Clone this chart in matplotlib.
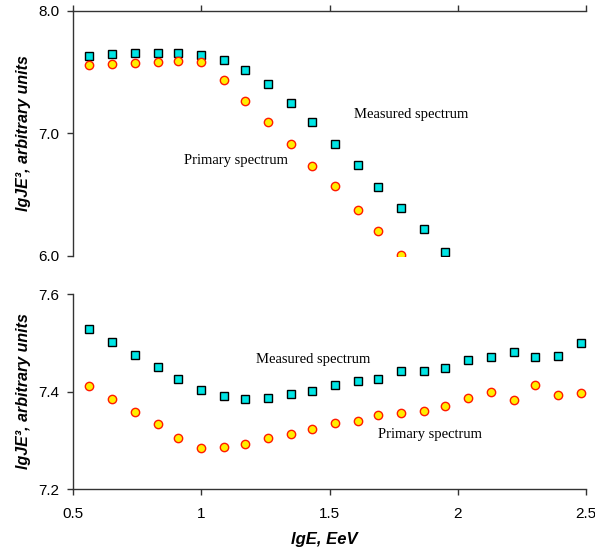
import matplotlib
matplotlib.use("Agg")
import matplotlib.pyplot as plt

# energy bins, lgE in EeV
lg_e = [0.56, 0.65, 0.74, 0.83, 0.91, 1.00, 1.09, 1.17, 1.26, 1.35, 1.43, 1.52,
        1.61, 1.69, 1.78, 1.87, 1.95, 2.04, 2.13, 2.22, 2.30, 2.39, 2.48]

# upper panel
top_measured = [7.633, 7.644, 7.652, 7.657, 7.657, 7.641, 7.595, 7.516, 7.404,
                7.249, 7.091, 6.914, 6.743, 6.563, 6.392, 6.220, 6.028]
top_primary = [7.554, 7.562, 7.573, 7.581, 7.587, 7.579, 7.434, 7.263, 7.089,
               6.914, 6.735, 6.569, 6.376, 6.204, 6.003]

# lower panel
bot_measured = [7.528, 7.502, 7.474, 7.450, 7.426, 7.404, 7.390, 7.385, 7.387,
                7.395, 7.402, 7.413, 7.421, 7.425, 7.442, 7.442, 7.449, 7.465,
                7.471, 7.481, 7.471, 7.473, 7.499]
bot_primary = [7.411, 7.385, 7.359, 7.333, 7.304, 7.285, 7.287, 7.292, 7.305,
               7.312, 7.324, 7.336, 7.339, 7.351, 7.355, 7.361, 7.370, 7.386,
               7.399, 7.383, 7.414, 7.393, 7.397]

x_ticks = [0.5, 1, 1.5, 2, 2.5]
x_ticklabels = ["0.5", "1", "1.5", "2", "2.5"]

plt.rcParams["font.family"] = ["Liberation Sans", "DejaVu Sans"]

fig = plt.figure(figsize=(5.95, 5.54), dpi=100)
ax1 = fig.add_axes([0.1230, 0.5384, 0.8618, 0.4422])
ax2 = fig.add_axes([0.1230, 0.1173, 0.8618, 0.3520])

sq = dict(marker="s", linestyle="none", markersize=5.5, markerfacecolor="#00e5e5",
          markeredgecolor="black", markeredgewidth=1.0)
ci = dict(marker="o", linestyle="none", markersize=6, markerfacecolor="#ffee00",
          markeredgecolor="#ff1a00", markeredgewidth=1.0)

ax1.plot(lg_e[:len(top_measured)], top_measured, **sq)
ax1.plot(lg_e[:len(top_primary)], top_primary, **ci)
ax2.plot(lg_e, bot_measured, **sq)
ax2.plot(lg_e, bot_primary, **ci)

label_font = dict(family="Liberation Serif", fontsize=10.5, va="center")
ax1.text(1.595, 7.149, "Measured spectrum", **label_font)
ax1.text(0.931, 6.781, "Primary spectrum", **label_font)
ax2.text(1.212, 7.465, "Measured spectrum", **label_font)
ax2.text(1.687, 7.311, "Primary spectrum", **label_font)

for ax in (ax1, ax2):
    ax.set_xlim(0.5, 2.5)
    ax.spines["right"].set_visible(False)
    ax.tick_params(axis="both", colors="#333333", labelcolor="black",
                   labelsize=11, length=4, width=1)
    ax.tick_params(axis="y", pad=6)
    for s in ax.spines.values():
        s.set_color("#333333")
        s.set_linewidth(1)
    ax.set_ylabel("lgJE³, arbitrary units", fontsize=11.5, fontweight="bold",
                  fontstyle="italic")
    ax.yaxis.set_label_coords(-0.083, 0.5)

# upper panel: axis line drawn along the top
ax1.set_ylim(6.0, 8.0)
ax1.set_yticks([6.0, 7.0, 8.0])
ax1.set_yticklabels(["6.0", "7.0", "8.0"])
ax1.spines["bottom"].set_visible(False)
ax1.xaxis.set_ticks_position("top")
ax1.set_xticks(x_ticks)
ax1.tick_params(axis="x", labeltop=False, labelbottom=False)

ax2.set_ylim(7.2, 7.6)
ax2.set_yticks([7.2, 7.4, 7.6])
ax2.set_yticklabels(["7.2", "7.4", "7.6"])
ax2.spines["top"].set_visible(False)
ax2.set_xticks(x_ticks)
ax2.set_xticklabels(x_ticklabels)
ax2.tick_params(axis="x", pad=9)
ax2.set_xlabel("lgE, EeV", fontsize=12, fontweight="bold", fontstyle="italic")
ax2.xaxis.set_label_coords(0.49, -0.22)

fig.savefig("out.png", dpi=100)
